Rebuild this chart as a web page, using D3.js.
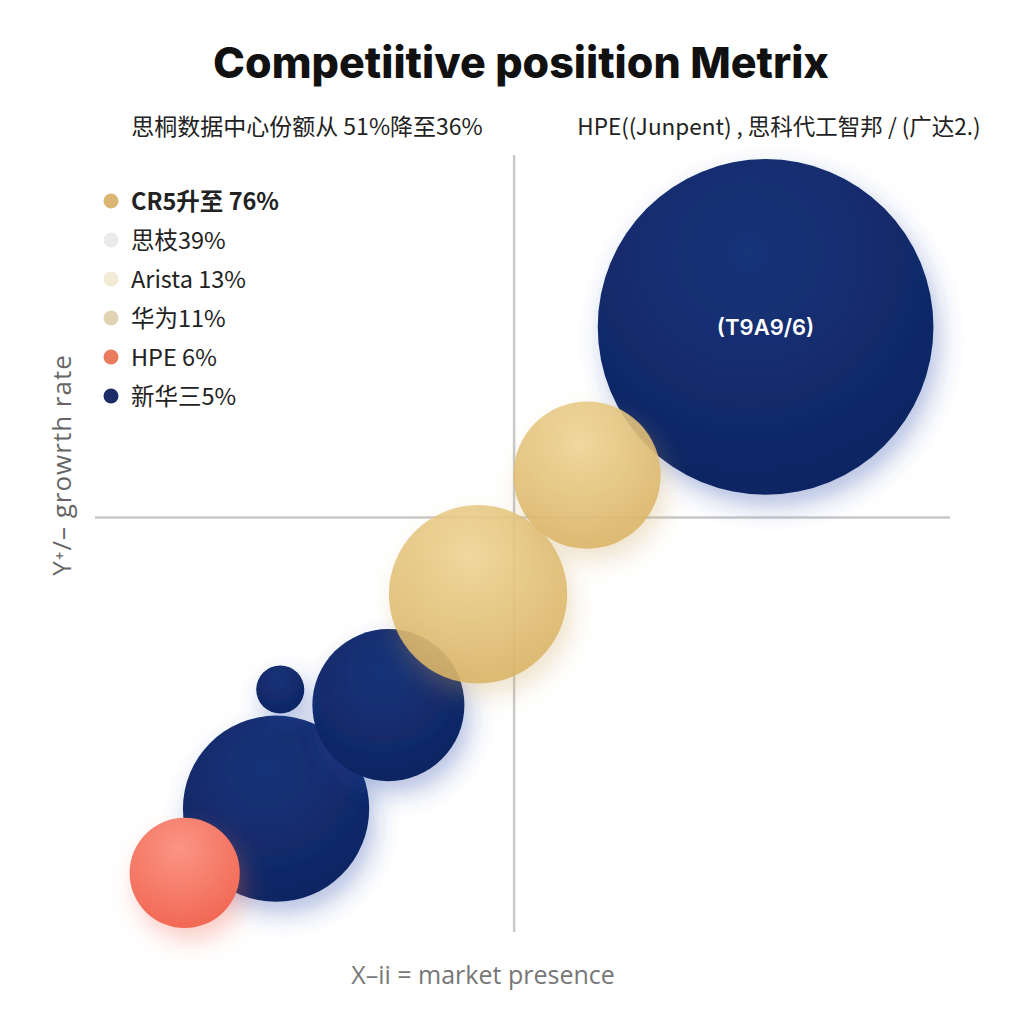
<!DOCTYPE html>
<html>
<head>
<meta charset="utf-8">
<script src="https://cdn.jsdelivr.net/npm/d3@7"></script>
<style>
  body { margin: 0; background: #fff; }
  svg { display: block; }
</style>
</head>
<body>
<svg id="chart"></svg>
<script>
// bubble data (x = market presence, y = growth, share drives the radius)
const names = ["思科", "Arista", "华为", "新华三", "HPE小", "HPE/Juniper", "其他"];
const presence = [30.0, 8.7, -4.3, -15.0, -27.9, -28.4, -39.3];
const growth = [18.4, 4.1, -7.4, -18.1, -16.6, -28.1, -34.3];
const share = [39, 7.5, 11, 8, 0.8, 12, 4.2];
const kinds = ["navy", "gold", "gold", "navy", "navy", "navy", "coral"];
const drawOrder = [0, 5, 3, 4, 6, 2, 1];

const legendLabels = ["CR5升至 76%", "思枝39%", "Arista 13%", "华为11%", "HPE 6%", "新华三5%"];
const legendColors = ["#dab673", "#ebebeb", "#f3ead6", "#e0d3b3", "#e97c5f", "#1b2c66"];

const titleText = "Competiitive posiition Metrix";
const noteLeft = "思桐数据中心份额从 51%降至36%";
const noteRight = "HPE((Junpent) , 思科代工智邦 / (广达2.)";
const bigLabel = "(T9A9/6)";
const xTitle = "X–ii = market presence";
const yTitle = "Y⁺/– growrth rate";

const width = 1024, height = 1024;

const svg = d3.select("#chart")
    .attr("width", width)
    .attr("height", height);

const x = d3.scaleLinear().domain([-50, 52]).range([95, 950]);
const y = d3.scaleLinear().domain([-40, 35]).range([932, 155]);
const r = d3.scaleSqrt().domain([0, 40]).range([0, 170]);

const defs = svg.append("defs");

const palette = {
    navy: { light: "#183479", dark: "#0d2360", shadow: "#2a4aa8" },
    gold: { light: "#f0d595", dark: "#d8b060", shadow: "#c9a35a" },
    coral: { light: "#fb9484", dark: "#f0644f", shadow: "#f06a55" }
};

Object.entries(palette).forEach(([k, c]) => {
    const g = defs.append("radialGradient")
        .attr("id", "grad-" + k)
        .attr("cx", "45%").attr("cy", "28%").attr("r", "80%");
    g.append("stop").attr("offset", "0%").attr("stop-color", c.light);
    g.append("stop").attr("offset", "100%").attr("stop-color", c.dark);

    const f = defs.append("filter")
        .attr("id", "shadow-" + k)
        .attr("x", "-40%").attr("y", "-40%")
        .attr("width", "180%").attr("height", "180%");
    f.append("feDropShadow")
        .attr("dx", 6).attr("dy", 12)
        .attr("stdDeviation", 12)
        .attr("flood-color", c.shadow)
        .attr("flood-opacity", 0.35);
});

// quadrant lines
svg.append("line")
    .attr("x1", x(0)).attr("x2", x(0))
    .attr("y1", y.range()[1]).attr("y2", y.range()[0])
    .attr("stroke", "#c9c9c9").attr("stroke-width", 2.5);
svg.append("line")
    .attr("x1", x.range()[0]).attr("x2", x.range()[1])
    .attr("y1", y(0)).attr("y2", y(0))
    .attr("stroke", "#c9c9c9").attr("stroke-width", 2.5);

// bubbles
svg.append("g")
    .selectAll("circle")
    .data(drawOrder)
    .join("circle")
    .attr("cx", i => x(presence[i]))
    .attr("cy", i => y(growth[i]))
    .attr("r", i => r(share[i]))
    .attr("fill", i => `url(#grad-${kinds[i]})`)
    .attr("fill-opacity", i => kinds[i] === "gold" ? 0.88 : 1)
    .attr("filter", i => `url(#shadow-${kinds[i]})`);

svg.append("text")
    .attr("x", x(presence[0]))
    .attr("y", y(growth[0]) + 8)
    .attr("text-anchor", "middle")
    .attr("font-family", "Inter, 'Open Sans', sans-serif")
    .attr("font-weight", 600)
    .attr("font-size", 22)
    .attr("fill", "#fff")
    .text(bigLabel);

// title and notes
svg.append("text")
    .attr("x", 521).attr("y", 78)
    .attr("text-anchor", "middle")
    .attr("font-family", "Inter, 'Open Sans', sans-serif")
    .attr("font-weight", 800)
    .attr("font-size", 43)
    .attr("fill", "#111")
    .text(titleText);

svg.append("text")
    .attr("x", 307).attr("y", 135)
    .attr("text-anchor", "middle")
    .attr("font-family", "'Noto Sans CJK SC', 'Noto Sans', sans-serif")
    .attr("font-size", 23)
    .attr("fill", "#222")
    .text(noteLeft);

svg.append("text")
    .attr("x", 779).attr("y", 135)
    .attr("text-anchor", "middle")
    .attr("font-family", "'Noto Sans CJK SC', 'Noto Sans', sans-serif")
    .attr("font-size", 22.5)
    .attr("fill", "#222")
    .text(noteRight);

// legend
const legend = svg.append("g").attr("transform", "translate(111, 201)");
const rows = legend.selectAll("g")
    .data(legendLabels)
    .join("g")
    .attr("transform", (d, i) => `translate(0, ${i * 39})`);
rows.append("circle")
    .attr("r", 7.5)
    .attr("fill", (d, i) => legendColors[i]);
rows.append("text")
    .attr("x", 20).attr("y", 8.5)
    .attr("font-family", "'Noto Sans CJK SC', 'Noto Sans', sans-serif")
    .attr("font-weight", (d, i) => i === 0 ? 700 : 400)
    .attr("font-size", 23.5)
    .attr("fill", "#222")
    .text(d => d);

// axis titles
svg.append("text")
    .attr("x", 483).attr("y", 984)
    .attr("text-anchor", "middle")
    .attr("font-family", "'Open Sans', 'Noto Sans', sans-serif")
    .attr("font-size", 25)
    .attr("fill", "#777")
    .text(xTitle);

svg.append("text")
    .attr("transform", "translate(71, 465) rotate(-90)")
    .attr("text-anchor", "middle")
    .attr("font-family", "'Open Sans', 'Noto Sans', sans-serif")
    .attr("font-size", 26)
    .attr("letter-spacing", 1)
    .attr("fill", "#666")
    .text(yTitle);
</script>
</body>
</html>
